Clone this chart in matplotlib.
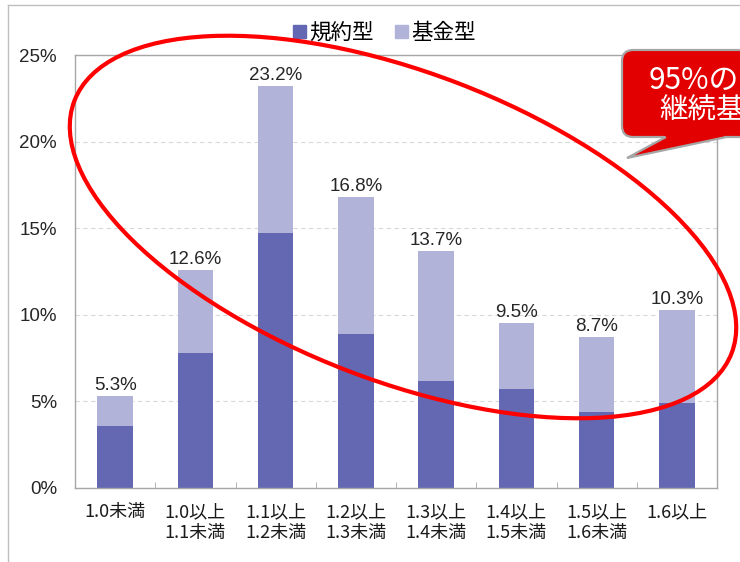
import numpy as np
import matplotlib
matplotlib.use('Agg')
import matplotlib.pyplot as plt
from matplotlib.patches import Ellipse, FancyBboxPatch, Polygon, Patch

plt.rcParams['font.family'] = ['Noto Sans CJK JP', 'DejaVu Sans']

# 区分と割合(%)
categories = ['1.0未満', '1.0以上\n1.1未満', '1.1以上\n1.2未満', '1.2以上\n1.3未満',
              '1.3以上\n1.4未満', '1.4以上\n1.5未満', '1.5以上\n1.6未満', '1.6以上']
kiyaku = [3.6, 7.8, 14.7, 8.9, 6.2, 5.7, 4.4, 4.9]   # 規約型
kikin = [1.7, 4.8, 8.5, 7.9, 7.5, 3.8, 4.3, 5.4]     # 基金型
yticks = [0, 5, 10, 15, 20, 25]

c_kiyaku = '#6467B2'
c_kikin = '#B1B3D9'
num_font = ['Liberation Sans', 'DejaVu Sans']

W, H = 740, 562
fig = plt.figure(figsize=(W / 100, H / 100), dpi=100)
ax = fig.add_axes([75 / W, 1 - 488 / H, (717 - 75) / W, (488 - 55) / H])

x = np.arange(len(categories))
ax.bar(x, kiyaku, width=0.44, color=c_kiyaku, zorder=2)
ax.bar(x, kikin, width=0.44, bottom=kiyaku, color=c_kikin, zorder=2)

totals = np.array(kiyaku) + np.array(kikin)
for i, t in enumerate(totals):
    ax.annotate(f'{t:.1f}%', (i, t), xytext=(0, 1.5), textcoords='offset points',
                ha='center', va='bottom', fontsize=13.5, color='#262626',
                family=num_font)

ax.set_xlim(-0.5, len(categories) - 0.5)
ax.set_ylim(0, 25)
ax.set_xticks(x)
ax.set_xticklabels(categories, fontsize=13, color='#1A1A1A', linespacing=1.22)
ax.set_xticks(np.arange(0.5, len(categories) - 1, 1), minor=True)
ax.tick_params(axis='x', which='major', length=0, pad=11)
ax.tick_params(axis='x', which='minor', direction='in', length=4, color='#A6A6A6')
ax.set_yticks(yticks)
ax.set_yticklabels([f'{v}%' for v in yticks], fontsize=13.5, color='#262626',
                   family=num_font)
ax.tick_params(axis='y', length=0, pad=13)

ax.yaxis.grid(True, ls=(0, (4, 3)), color='#D9D9D9', lw=0.8)
ax.set_axisbelow(True)
for s in ax.spines.values():
    s.set_color('#A6A6A6')
    s.set_linewidth(1)

handles = [Patch(color=c_kiyaku, label='規約型'), Patch(color=c_kikin, label='基金型')]
ax.legend(handles=handles, loc='center', bbox_to_anchor=(384 / W, 1 - 33 / H),
          bbox_transform=fig.transFigure, ncol=2, frameon=False, fontsize=15.5,
          handlelength=0.6, handleheight=0.6, handletextpad=0.15,
          columnspacing=1.0)

# 外枠・楕円・吹き出し (ピクセル座標)
ov = fig.add_axes([0, 0, 1, 1], zorder=10)
ov.set_xlim(0, W)
ov.set_ylim(H, 0)
ov.axis('off')
ov.patch.set_alpha(0)

ov.plot([8, 8], [H, 5], color='#BFBFBF', lw=1)
ov.plot([8, W], [5, 5], color='#BFBFBF', lw=1)

ov.add_patch(Ellipse((403, 227), 704, 308, angle=21, fill=False,
                     ec='#FF0000', lw=3))

red = '#E30000'
edge = '#A6A6A6'
ov.add_patch(FancyBboxPatch((622, 50), 200, 87,
                            boxstyle='round,pad=0,rounding_size=11',
                            fc=red, ec=edge, lw=1.6))
ov.add_patch(Polygon([(665, 130), (665, 137), (627, 158), (724, 137), (724, 130)],
                     closed=True, fc=red, ec='none'))
ov.plot([665, 627, 724], [137.5, 158, 137.5], color=edge, lw=1.6,
        solid_joinstyle='miter')
ov.text(649, 80, '95%の', color='white', fontsize=21.5, ha='left', va='center')
ov.text(659, 111, '継続基', color='white', fontsize=20.5, ha='left', va='center')

fig.savefig('out.png', dpi=100)
